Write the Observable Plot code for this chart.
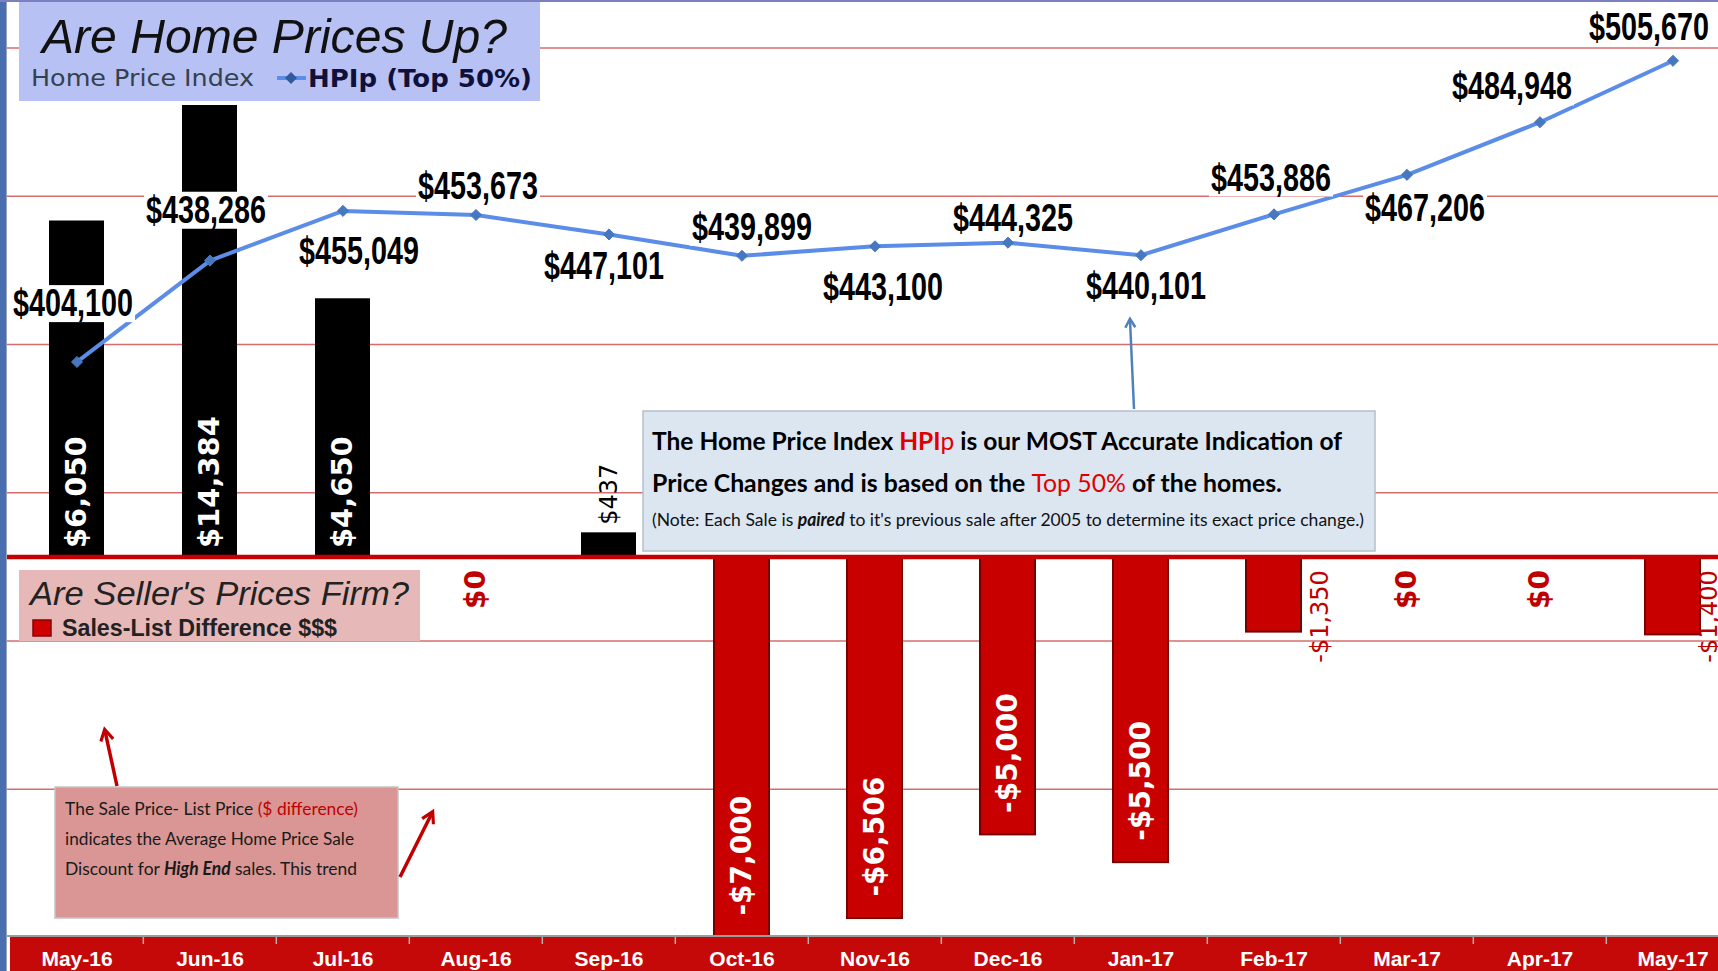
<!DOCTYPE html>
<html><head><meta charset="utf-8">
<script src="https://cdn.jsdelivr.net/npm/d3@7"></script>
<script src="https://cdn.jsdelivr.net/npm/@observablehq/plot@0.6"></script>
<style>
html,body{margin:0;padding:0;background:#fff;overflow:hidden}
#wrap{position:relative;width:1718px;height:971px;overflow:hidden;background:#fff}
.layer{position:absolute;left:0;top:0}
</style></head><body>
<div id="wrap">
  <div id="grid" class="layer" style="width:1742px"></div>
  <div id="bars" class="layer" style="width:1742px"></div>
  <div class="layer" style="top:935px;width:1718px;height:2px;background:#9c9c9c"></div>
  <div id="axis" class="layer" style="top:937px;width:1742px"></div>
  <div id="line" class="layer" style="width:1742px"></div>
  <svg id="over" class="layer" width="1718" height="971">
    <defs>
      <marker id="ahB" viewBox="0 0 10 10" refX="7" refY="5" markerWidth="5" markerHeight="5" orient="auto">
        <path d="M1,1L8,5L1,9" fill="none" stroke="#4f81bd" stroke-width="2"/>
      </marker>
      <marker id="ahR" viewBox="0 0 10 10" refX="7" refY="5" markerWidth="4.5" markerHeight="4.5" orient="auto">
        <path d="M1,1L8,5L1,9" fill="none" stroke="#c00000" stroke-width="2"/>
      </marker>
    </defs>
    <rect x="0" y="0" width="6" height="971" fill="#4a6fb0"/>
    <rect x="6" y="0" width="1" height="971" fill="#9aa4b8"/>
    <rect x="0" y="0" width="1718" height="2" fill="#7c80c2"/>

    <rect x="19" y="2" width="521" height="99" fill="#b8c1f3"/>
    <text x="42" y="53" font-family="Liberation Sans, Arial, sans-serif" font-style="italic" font-size="48" fill="#111" textLength="465" lengthAdjust="spacingAndGlyphs">Are Home Prices Up?</text>
    <text x="31" y="86" font-family="DejaVu Sans, sans-serif" font-size="23" fill="#34414e" textLength="223" lengthAdjust="spacingAndGlyphs">Home Price Index</text>
    <line x1="277" y1="78" x2="306" y2="78" stroke="#5a8ce8" stroke-width="4"/>
    <path d="M291,72L297,78L291,84L285,78Z" fill="#2f5a9e"/>
    <text x="308" y="87" font-family="DejaVu Sans, sans-serif" font-weight="bold" font-size="25" fill="#10103a" textLength="224" lengthAdjust="spacingAndGlyphs">HPIp (Top 50%)</text>

    <rect x="19" y="570" width="401" height="71" fill="#e6b9b8"/>
    <text x="30" y="605" font-family="Liberation Sans, Arial, sans-serif" font-style="italic" font-size="34" fill="#222" textLength="379" lengthAdjust="spacingAndGlyphs">Are Seller's Prices Firm?</text>
    <rect x="33" y="620" width="18" height="16" fill="#d00000" stroke="#8a0000" stroke-width="1.5"/>
    <text x="62" y="636" font-family="Liberation Sans, Arial, sans-serif" font-weight="bold" font-size="24" fill="#222" textLength="275" lengthAdjust="spacingAndGlyphs">Sales-List Difference $$$</text>

    <rect x="643" y="411" width="732" height="140" fill="#dce6f1" stroke="#b7bfca" stroke-width="1.5"/>
    <text x="652" y="450" font-family="Lato, sans-serif" font-weight="bold" font-size="25" fill="#000" textLength="690" lengthAdjust="spacingAndGlyphs">The Home Price Index <tspan fill="#e00000">HPI</tspan><tspan fill="#e00000" font-weight="normal">p</tspan> is our MOST Accurate Indication of</text>
    <text x="652" y="492" font-family="Lato, sans-serif" font-weight="bold" font-size="25" fill="#000" textLength="630" lengthAdjust="spacingAndGlyphs">Price Changes and is based on the <tspan fill="#e00000" font-weight="normal">Top 50%</tspan> of the homes.</text>
    <text x="652" y="526" font-family="Lato, sans-serif" font-size="18" fill="#111" textLength="712" lengthAdjust="spacingAndGlyphs">(Note: Each Sale is <tspan font-weight="bold" font-style="italic">paired</tspan> to it's previous sale after 2005  to determine its exact price change.)</text>

    <rect x="55" y="787" width="343" height="131" fill="#d99694" stroke="#c4c4c4" stroke-width="1.5"/>
    <text x="65" y="815" font-family="Lato, sans-serif" font-size="18" fill="#1a1a1a" textLength="293" lengthAdjust="spacingAndGlyphs">The  Sale Price- List Price <tspan fill="#c00000">($ difference)</tspan></text>
    <text x="65" y="845" font-family="Lato, sans-serif" font-size="18" fill="#1a1a1a" textLength="289" lengthAdjust="spacingAndGlyphs">indicates the Average Home Price Sale</text>
    <text x="65" y="875" font-family="Lato, sans-serif" font-size="18" fill="#1a1a1a" textLength="292" lengthAdjust="spacingAndGlyphs">Discount for <tspan font-weight="bold" font-style="italic">High End</tspan> sales. This trend</text>

    <line x1="1134" y1="409" x2="1130" y2="320" stroke="#4f81bd" stroke-width="2.5" marker-end="url(#ahB)"/>
    <line x1="117" y1="786" x2="105" y2="731" stroke="#c00000" stroke-width="3.5" marker-end="url(#ahR)"/>
    <line x1="400" y1="877" x2="432" y2="813" stroke="#c00000" stroke-width="3.5" marker-end="url(#ahR)"/>
  </svg>
</div>
<script>
// ---- data ----
const months = ["May-16","Jun-16","Jul-16","Aug-16","Sep-16","Oct-16","Nov-16","Dec-16","Jan-17","Feb-17","Mar-17","Apr-17","May-17"];
const hpiValues = [404100,438286,455049,453673,447101,439899,443100,444325,440101,453886,467206,484948,505670];
const saleListDiff = [6050,14384,4650,0,437,-7000,-6506,-5000,-5500,-1350,0,0,-1400];
const hpiGridTicks = [260000,310000,360000,410000,460000,510000];

// ---- layout (label offsets in px) ----
const hpiLabelDx = [-4,-4,16,2,-5,10,8,5,5,-3,18,-28,-24];
const hpiLabelDy = [-58,-50,41,-28,32,-28,42,-24,32,-36,34,-35,-33];
const sideLabelDx = {"Feb-17": 46, "May-17": 36};

const W = 1742, PH = 937, ML = 7, MR = 1;
const STEP = (W - ML - MR) / months.length;
const base = {width: W, marginLeft: ML, marginRight: MR, marginTop: 0, marginBottom: 0,
  style: {background: "transparent", maxWidth: "none", overflow: "visible"}};
const fmt = d3.format("$,");
const lab = v => (v < 0 ? "-" : "") + fmt(Math.abs(v));
const hpiDomain = [210000, 526000];

const rows = months.map((m, i) => ({m, v: saleListDiff[i]}));
const pts = months.map((m, i) => ({m, v: hpiValues[i]}));

// gridlines (HPI axis)
const gridPlot = Plot.plot({...base, height: PH,
  x: {type: "band", domain: months, padding: 0, axis: null},
  y: {domain: hpiDomain, axis: null},
  marks: [Plot.ruleY(hpiGridTicks, {stroke: "#d66c6c", strokeWidth: 1.5})]
});
document.getElementById("grid").append(gridPlot);

// bars (sale - list difference)
const barFont = "DejaVu Sans, Verdana, sans-serif";
const smallNeg = rows.filter(d => d.v < 0 && d.v > -2000);
const barsPlot = Plot.plot({...base, height: PH, marginTop: 105,
  x: {type: "band", domain: months, paddingInner: 0.59, paddingOuter: 0.295, axis: null},
  y: {domain: [-6847, 8129], clamp: true, axis: null},
  marks: [
    Plot.barY(rows.filter(d => d.v > 0), {x: "m", y: "v", fill: "#000"}),
    Plot.barY(rows.filter(d => d.v < 0), {x: "m", y: "v", fill: "#c80000", stroke: "#750000", strokeWidth: 2}),
    Plot.ruleY([0], {stroke: "#c40000", strokeWidth: 4.5}),
    Plot.text(rows.filter(d => d.v >= 2000), {x: "m", y: 0, text: d => lab(d.v), rotate: -90, textAnchor: "start", dy: -9,
      fill: "white", fontSize: 29, fontWeight: "bold", fontFamily: barFont}),
    Plot.text(rows.filter(d => d.v <= -2000), {x: "m", y: "v", text: d => lab(d.v), rotate: -90, textAnchor: "start", dy: -22,
      fill: "white", fontSize: 28, fontWeight: "bold", fontFamily: barFont}),
    Plot.text(rows.filter(d => d.v > 0 && d.v < 2000), {x: "m", y: "v", text: d => lab(d.v), rotate: -90, textAnchor: "start", dy: -8,
      fill: "#000", fontSize: 24, fontFamily: barFont}),
    Plot.text(rows.filter(d => d.v === 0), {x: "m", y: 0, text: d => lab(d.v), rotate: -90, textAnchor: "end", dy: 13,
      fill: "#c00000", fontSize: 28, fontWeight: "bold", fontFamily: barFont}),
    ...smallNeg.map(d => Plot.text([d], {x: "m", y: 0, text: d => lab(d.v), rotate: -90, textAnchor: "end", dy: 13, dx: sideLabelDx[d.m] || 0,
      fill: "#c00000", fontSize: 24, fontFamily: barFont}))
  ]
});
document.getElementById("bars").append(barsPlot);

// x axis band
const axisPlot = Plot.plot({...base, height: 34,
  x: {type: "band", domain: months, padding: 0, axis: null},
  marks: [
    Plot.cell(months, {x: d => d, fill: "#c50808"}),
    Plot.ruleX(months.slice(1), {x: d => d, dx: -STEP / 2, stroke: "#b0b0b0", strokeWidth: 1.5, insetBottom: 27}),
    Plot.text(months, {x: d => d, text: d => d, frameAnchor: "middle", dy: 5, fill: "white", fontSize: 21, fontWeight: "bold",
      fontFamily: "Liberation Sans, Arial, sans-serif"})
  ]
});
document.getElementById("axis").append(axisPlot);

// HPI line
const linePlot = Plot.plot({...base, height: PH,
  x: {type: "band", domain: months, padding: 0, axis: null},
  y: {domain: hpiDomain, axis: null},
  marks: [
    Plot.line(pts, {x: "m", y: "v", stroke: "#5a8ce8", strokeWidth: 4}),
    Plot.dot(pts, {x: "m", y: "v", symbol: "diamond2", r: 5, fill: "#4677c0", stroke: "#4677c0", strokeWidth: 1}),
    ...pts.map((p, i) => Plot.text([p], {x: "m", y: "v", text: d => fmt(d.v), dx: hpiLabelDx[i], dy: hpiLabelDy[i],
      fill: "#000", fontSize: 38, fontWeight: "bold", fontFamily: "Liberation Sans, Arial, sans-serif"}))
  ]
});
document.getElementById("line").append(linePlot);
// condensed look + white boxes behind the HPI labels
linePlot.querySelectorAll("text").forEach(t => {
  t.setAttribute("textLength", 120);
  t.setAttribute("lengthAdjust", "spacingAndGlyphs");
  const b = t.getBBox();
  const r = document.createElementNS("http://www.w3.org/2000/svg", "rect");
  r.setAttribute("x", b.x - 2); r.setAttribute("y", b.y + 3);
  r.setAttribute("width", b.width + 4); r.setAttribute("height", b.height - 5);
  r.setAttribute("fill", "white");
  if (t.getAttribute("transform")) r.setAttribute("transform", t.getAttribute("transform"));
  t.parentNode.insertBefore(r, t);
});
</script>
</body></html>
